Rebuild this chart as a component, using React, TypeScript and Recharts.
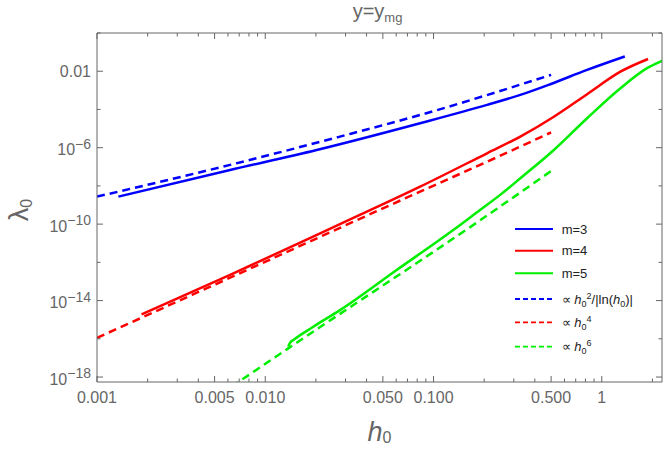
import React from 'react';
import { LineChart, Line, XAxis, YAxis, Legend } from 'recharts';

// ---- data ----
const m3H = [0.00134, 0.00618, 0.0202, 0.0832, 0.208, 0.328, 0.494, 0.818, 1.371];
const m3L = [2.75e-9, 6.76e-8, 7.59e-7, 1.91e-5, 1.74e-4, 5.75e-4, 2.09e-3, 1.17e-2, 5.9e-2];

const m4H = [0.00184, 0.00618, 0.0278, 0.0832, 0.208, 0.328, 0.519, 0.818, 1.291, 1.884];
const m4L = [1.9e-15, 2.19e-13, 1.0e-10, 9.1e-9, 5.1e-7, 3.8e-6, 4.17e-5, 6.3e-4, 9.5e-3, 4.37e-2];

const m5H = [0.0137, 0.01406, 0.0147, 0.0193, 0.0278, 0.0604, 0.131, 0.189, 0.249, 0.328, 0.519, 0.818, 1.291, 1.858, 2.34, 2.6];
const m5L = [3.9e-17, 6.3e-17, 8.7e-17, 4.27e-16, 3.16e-15, 4.0e-13, 4.9e-11, 5.5e-10, 3.39e-9, 2.51e-8, 7.6e-7, 3.47e-5, 1.29e-3, 1.45e-2, 3.9e-2, 6.0e-2];

const fitLogH = [0.001, 0.00618, 0.0278, 0.0832, 0.5];
const fitLogL = [2.75e-9, 1.26e-7, 3.8e-6, 5.13e-5, 6.46e-3];

const fit4H = [0.001, 0.00618, 0.0832, 0.189, 0.5];
const fit4L = [1.12e-16, 1.58e-13, 5.0e-9, 1.26e-7, 6.3e-6];

const fit6H = [0.00631, 0.0137, 0.189, 0.5];
const fit6L = [3.16e-19, 3.16e-17, 1.58e-10, 6.0e-8];

const xMajor = [0.001, 0.005, 0.01, 0.05, 0.1, 0.5, 1];
const xLabels = ['0.001', '0.005', '0.010', '0.050', '0.100', '0.500', '1'];
const xMinor = [0.002, 0.003, 0.004, 0.006, 0.007, 0.008, 0.009, 0.02, 0.03, 0.04, 0.06, 0.07, 0.08, 0.09, 0.2, 0.3, 0.4, 0.6, 0.7, 0.8, 0.9, 2];
const yMajor = [1e-18, 1e-14, 1e-10, 1e-6, 1e-2];
const yBase = ['10', '10', '10', '10', '0.01'];
const yExp = ['\u221218', '\u221214', '\u221210', '\u22126', ''];
const yMinor = [1e-16, 1e-12, 1e-8, 1e-4, 1];

const xDomain = [0.001, 2.28];
const yDomain = [5.5e-19, 1];

const toPts = (h: number[], l: number[]) => h.map((x, i) => ({ x, y: l[i] }));
const sM3 = toPts(m3H, m3L);
const sM4 = toPts(m4H, m4L);
const sM5 = toPts(m5H, m5L);
const sF2 = toPts(fitLogH, fitLogL);
const sF4 = toPts(fit4H, fit4L);
const sF6 = toPts(fit6H, fit6L);

const BLUE = '#0000ff';
const RED = '#ff0000';
const GREEN = '#00ee00';
const GRAY = '#666666';
const FONT = 'Liberation Sans, Arial, sans-serif';

const xTicks = [...xMajor, ...xMinor].sort((a, b) => a - b);
const yTicks = [...yMajor, ...yMinor].sort((a, b) => a - b);

const XTickBottom = (props: any) => {
  const { x, y, payload } = props;
  const idx = xMajor.indexOf(payload.value);
  const major = idx >= 0;
  return (
    <g>
      <line x1={x} y1={y} x2={x} y2={y - (major ? 6 : 3.5)} stroke={GRAY} strokeWidth={1} />
      {major && (
        <text x={x} y={y + 21} textAnchor="middle" fontSize={16} fill={GRAY} fontFamily={FONT}>
          {xLabels[idx]}
        </text>
      )}
    </g>
  );
};

const XTickTop = (props: any) => {
  const { x, y, payload } = props;
  const major = xMajor.indexOf(payload.value) >= 0;
  return <line x1={x} y1={y} x2={x} y2={y + (major ? 6 : 3.5)} stroke={GRAY} strokeWidth={1} />;
};

const YTickLeft = (props: any) => {
  const { x, y, payload } = props;
  const idx = yMajor.indexOf(payload.value);
  const major = idx >= 0;
  return (
    <g>
      <line x1={x} y1={y} x2={x + (major ? 6 : 3.5)} y2={y} stroke={GRAY} strokeWidth={1} />
      {major && (
        <text x={x - 6} y={y + (yExp[idx] ? 7.7 : 6)} textAnchor="end" fontSize={16} fill={GRAY} fontFamily={FONT}>
          {yBase[idx]}
          {yExp[idx] && (
            <tspan dy={-6.7} fontSize={14}>
              {yExp[idx]}
            </tspan>
          )}
        </text>
      )}
    </g>
  );
};

const YTickRight = (props: any) => {
  const { x, y, payload } = props;
  const major = yMajor.indexOf(payload.value) >= 0;
  return <line x1={x} y1={y} x2={x - (major ? 6 : 3.5)} y2={y} stroke={GRAY} strokeWidth={1} />;
};

const legendItems = [
  { color: BLUE, dashed: false, kind: 'm3' },
  { color: RED, dashed: false, kind: 'm4' },
  { color: GREEN, dashed: false, kind: 'm5' },
  { color: BLUE, dashed: true, kind: 'f2' },
  { color: RED, dashed: true, kind: 'f4' },
  { color: GREEN, dashed: true, kind: 'f6' },
];
const legendY = [14, 35.7, 58.3, 84, 107.3, 131.7];

const LegendText = ({ kind }: { kind: string }) => {
  if (kind === 'm3') return <>m=3</>;
  if (kind === 'm4') return <>m=4</>;
  if (kind === 'm5') return <>m=5</>;
  const h0 = (
    <>
      <tspan fontStyle="italic">h</tspan>
      <tspan fontSize={9} dy={3}>0</tspan>
    </>
  );
  if (kind === 'f2')
    return (
      <>
        {'\u221D '}
        {h0}
        <tspan fontSize={9} dy={-8}>2</tspan>
        <tspan dy={5}>/|ln(</tspan>
        {h0}
        <tspan dy={-3}>)|</tspan>
      </>
    );
  return (
    <>
      {'\u221D '}
      {h0}
      <tspan fontSize={9} dy={-8}>{kind === 'f4' ? '4' : '6'}</tspan>
    </>
  );
};

const LegendContent = () => (
  <svg width={160} height={145} style={{ display: 'block' }}>
    {legendItems.map((it, i) => (
      <g key={i}>
        <line
          x1={10}
          x2={48}
          y1={legendY[i]}
          y2={legendY[i]}
          stroke={it.color}
          strokeWidth={it.dashed ? 1.8 : 2}
          strokeDasharray={it.dashed ? '5 3' : undefined}
        />
        <text x={56.7} y={legendY[i] + 4.5} fontSize={13} fill="#222" fontFamily={FONT}>
          <LegendText kind={it.kind} />
        </text>
      </g>
    ))}
  </svg>
);

const HLabel = (props: any) => {
  const vb = props.viewBox;
  return (
    <text x={vb.x + vb.width / 2} y={441} textAnchor="middle" fontSize={27} fontStyle="italic" fill={GRAY} fontFamily={FONT}>
      h
      <tspan fontSize={16} fontStyle="normal" dy={2}>0</tspan>
    </text>
  );
};

const LLabel = (props: any) => {
  const vb = props.viewBox;
  const cy = vb.y + vb.height / 2 + 2.5;
  return (
    <text x={28} y={cy} transform={`rotate(-90 28 ${cy})`} textAnchor="middle" fontSize={27} fill={GRAY} fontFamily={FONT}>
      λ
      <tspan fontSize={16} dy={4}>0</tspan>
    </text>
  );
};

const TitleLabel = (props: any) => {
  const vb = props.viewBox;
  return (
    <text x={vb.x + vb.width / 2 - 2} y={18} textAnchor="middle" fontSize={20} fill={GRAY} fontFamily={FONT}>
      y=y
      <tspan fontSize={13} dy={3.5}>mg</tspan>
    </text>
  );
};

export default function App() {
  const common = { dataKey: 'y', dot: false, isAnimationActive: false, xAxisId: 'b', yAxisId: 'l', strokeWidth: 2.5, type: 'monotone' as const, activeDot: false };
  return (
    <div style={{ position: 'absolute', left: 0, top: 0, background: '#fff' }}>
      <LineChart width={667} height={452} margin={{ top: 32, right: 4, bottom: 0, left: 0 }}>
        <XAxis
          xAxisId="b"
          orientation="bottom"
          dataKey="x"
          type="number"
          scale="log"
          domain={xDomain}
          allowDataOverflow
          ticks={xTicks}
          interval={0}
          tickSize={0}
          tickMargin={0}
          tickLine={false}
          tick={<XTickBottom />}
          height={70}
          axisLine={{ stroke: GRAY, strokeWidth: 1 }}
          label={HLabel}
        />
        <XAxis
          xAxisId="t"
          orientation="top"
          dataKey="x"
          type="number"
          scale="log"
          domain={xDomain}
          allowDataOverflow
          ticks={xTicks}
          interval={0}
          tickSize={0}
          tickMargin={0}
          tickLine={false}
          tick={<XTickTop />}
          height={1}
          axisLine={{ stroke: GRAY, strokeWidth: 1 }}
          label={TitleLabel}
        />
        <YAxis
          yAxisId="l"
          orientation="left"
          type="number"
          scale="log"
          domain={yDomain}
          allowDataOverflow
          ticks={yTicks}
          interval={0}
          tickSize={0}
          tickMargin={0}
          tickLine={false}
          tick={<YTickLeft />}
          width={97}
          axisLine={{ stroke: GRAY, strokeWidth: 1 }}
          label={LLabel}
        />
        <YAxis
          yAxisId="r"
          orientation="right"
          type="number"
          scale="log"
          domain={yDomain}
          allowDataOverflow
          ticks={yTicks}
          interval={0}
          tickSize={0}
          tickMargin={0}
          tickLine={false}
          tick={<YTickRight />}
          width={1}
          axisLine={{ stroke: GRAY, strokeWidth: 1 }}
        />
        <Line {...common} data={sF2} stroke={BLUE} strokeDasharray="8 5" />
        <Line {...common} data={sF4} stroke={RED} strokeDasharray="8 5" />
        <Line {...common} data={sF6} stroke={GREEN} strokeDasharray="8 5" />
        <Line {...common} data={sM3} stroke={BLUE} />
        <Line {...common} data={sM4} stroke={RED} />
        <Line {...common} data={sM5} stroke={GREEN} />
        <Legend
          content={LegendContent}
          layout="vertical"
          align="center"
          verticalAlign="middle"
          wrapperStyle={{ left: 505, top: 215, width: 160, height: 145 }}
        />
      </LineChart>
    </div>
  );
}
